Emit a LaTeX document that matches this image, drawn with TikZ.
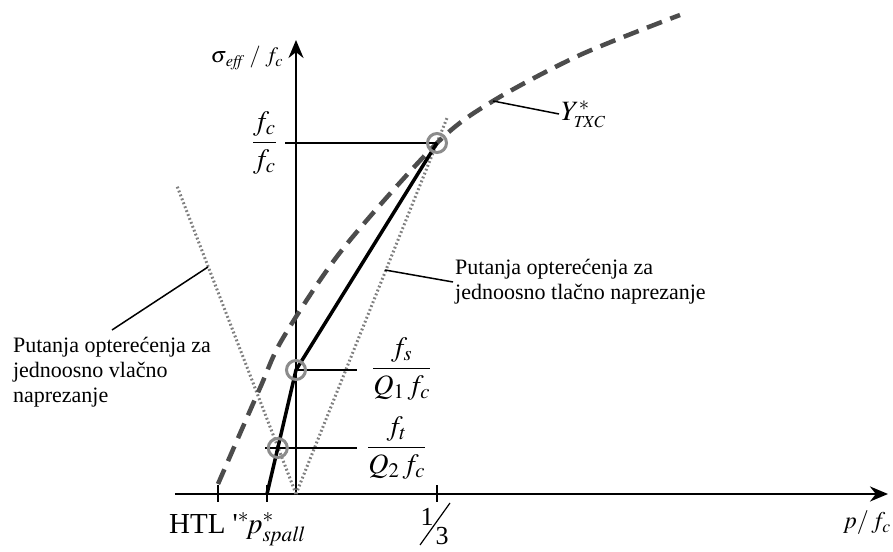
\documentclass[tikz,border=0pt]{standalone}
\usepackage{mathptmx}
\usepackage{amsmath}
\usepackage{fontspec}
\setmainfont{Liberation Serif}
\usetikzlibrary{arrows.meta}

\begin{document}
\begin{tikzpicture}[x=10pt, y=10pt, >={Stealth[length=18pt,width=15pt]},
    font=\fontsize{22}{25}\selectfont,
    axis/.style={line width=2.5pt},
    tickmark/.style={line width=2pt},
    loadpath/.style={line width=3.5pt},
    yieldcurve/.style={line width=4.5pt, draw=black!70, dash pattern=on 16pt off 9pt},
    uniaxial/.style={line width=3pt, draw=black!50, dash pattern=on 1.8pt off 2.4pt},
    leader/.style={line width=1.5pt},
    marker/.style={circle, draw=black!45, line width=3pt, minimum size=19pt, inner sep=0pt},
    frac/.style={font=\fontsize{28}{30}\selectfont, inner sep=1pt},
    biglabel/.style={font=\fontsize{29}{31}\selectfont, inner sep=0pt}]
    \useasboundingbox (-29.6,-5.7) rectangle (59.7,49.4);

    % Axis
    \coordinate (O) at (0,0);
    \coordinate (xstart) at (-12.1,0);
    \coordinate (xend) at (59.2,0);
    \coordinate (yend) at (0,45.4);
    \draw[axis, ->] (xstart) -- (xend);
    \draw[axis, ->] (O) -- (yend);

    % Ticks
    \coordinate (htl) at (-7.8,0);
    \coordinate (spall) at (-2.9,0);
    \coordinate (third) at (14.1,0);
    \foreach \t in {htl, spall, third}
        \draw[tickmark] ([yshift=9pt]\t) -- ([yshift=-8pt]\t);

    % Uniaxial load paths
    \coordinate (tenend) at (-11.9,30.8);
    \coordinate (compend) at (15.1,37.6);
    \draw[uniaxial] (O) -- (tenend);
    \draw[uniaxial] (O) -- (compend);

    % Yield surface
    \draw[yieldcurve] plot[smooth] coordinates {(-7.8,1.0) (-3.6,10.6) (-1.3,15.6)
        (4.6,24.4) (14.1,35.1) (19.7,39.3) (28.4,43.9) (38.4,47.9)};

    % Points on the load path
    \coordinate (top) at (14.1,35.1);
    \coordinate (fs) at (0,12.4);
    \coordinate (ft) at (-1.82,4.6);

    % Level lines
    \coordinate (fcstart) at (-1.1,35.1);
    \coordinate (fsend) at (6.1,12.4);
    \coordinate (ftstart) at (-3.1,4.6);
    \coordinate (ftend) at (6.1,4.6);
    \draw[leader] (fcstart) -- (top);
    \draw[leader] (fs) -- (fsend);
    \draw[leader] (ftstart) -- (ftend);

    % Load path
    \draw[loadpath] (spall) -- (ft) -- (fs) -- (top);

    % Circles
    \node[marker] (mtop) at (top) {};
    \node[marker] (mfs) at (fs) {};
    \node[marker] (mft) at (ft) {};

    % Axis labels
    \node[inner sep=0pt] (ylabel) at (-4.9,43.6) {$\sigma_{\,\mathit{eff}}\;/\;f_c$};
    \node[font=\fontsize{24}{26}\selectfont, inner sep=0pt] (xlabel) at (57.1,-2.9) {$p/\,f_c$};
    \node[biglabel, anchor=base] (htllabel) at (-5.9,-3.9)
        {HTL \textquotesingle$^{*}\!p^{*}_{\mathit{spall}}$};

    % One third
    \node[font=\fontsize{26}{28}\selectfont, inner sep=0pt] (one) at (13.1,-2.3) {1};
    \node[font=\fontsize{26}{28}\selectfont, inner sep=0pt] (three) at (14.6,-4.2) {3};
    \coordinate (slashlow) at (12.4,-5.1);
    \coordinate (slashhigh) at (15.4,-0.9);
    \draw[line width=1.2pt] (slashlow) -- (slashhigh);

    % Level labels
    \node[frac, anchor=east] (fclabel) at (-1.8,35.1) {$\dfrac{f_c}{f_c}$};
    \node[frac, anchor=west] (fslabel) at (7.5,12.5) {$\dfrac{f_s}{Q_1\,f_c}$};
    \node[frac, anchor=west] (ftlabel) at (7.0,4.6) {$\dfrac{f_t}{Q_2\,f_c}$};

    % Curve label
    \coordinate (yc) at (19.7,39.3);
    \node[anchor=west, inner sep=2pt, font=\fontsize{28}{30}\selectfont] (ytxc) at (26.3,38.0)
        {$Y^{*}_{\scriptscriptstyle\mathit{TXC}}$};
    \draw[leader] (yc) -- (ytxc.west);

    % Load path labels
    \coordinate (tc) at (8.9,22.4);
    \node[anchor=west, align=left, inner sep=2pt] (tlabel) at (15.7,21.2)
        {Putanja opterećenja za\\jednoosno tlačno naprezanje};
    \draw[leader] (tc) -- (tlabel.west);

    \coordinate (vc) at (-8.8,22.7);
    \node[anchor=north, align=left, inner ysep=7pt] (vlabel) at (-18.4,16.4)
        {Putanja opterećenja za\\jednoosno vlačno\\naprezanje};
    \draw[leader] (vlabel.north) -- (vc);
\end{tikzpicture}
\end{document}
